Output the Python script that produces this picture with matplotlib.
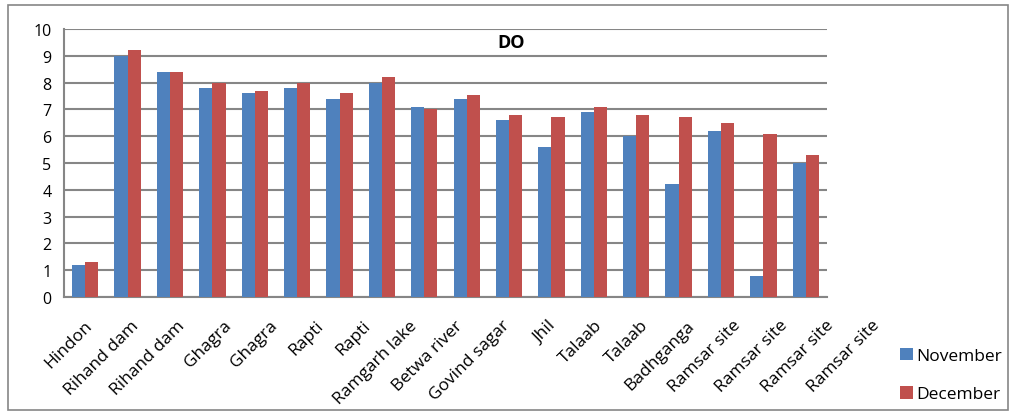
import numpy as np
import matplotlib.pyplot as plt
from matplotlib.patches import Rectangle

sites = ['Hindon', 'Rihand dam', 'Rihand dam', 'Ghagra', 'Ghagra', 'Rapti', 'Rapti',
         'Ramgarh lake', 'Betwa river', 'Govind sagar', 'Jhil', 'Talaab', 'Talaab',
         'Badhganga', 'Ramsar site', 'Ramsar site', 'Ramsar site', 'Ramsar site']
november = [1.2, 9.0, 8.4, 7.8, 7.6, 7.8, 7.4, 8.0, 7.1, 7.4, 6.6, 5.6, 6.9, 6.0, 4.2, 6.2, 0.8, 5.0]
december = [1.3, 9.2, 8.4, 8.0, 7.7, 8.0, 7.6, 8.2, 7.0, 7.55, 6.8, 6.7, 7.1, 6.8, 6.7, 6.5, 6.1, 5.3]

plt.rcParams['font.family'] = ['Open Sans', 'DejaVu Sans']

fig = plt.figure(figsize=(10.10, 4.14), dpi=100)
ax = fig.add_axes([64 / 1010, 1 - 298 / 414, (827 - 64) / 1010, (298 - 30) / 414])

x = np.arange(len(sites))
w = 0.31
ax.bar(x - w / 2, november, w, color='#4F81BD', label='November', zorder=3)
ax.bar(x + w / 2, december, w, color='#C0504D', label='December', zorder=3)

ax.set_xlim(-0.5, len(sites) - 0.5)
ax.set_ylim(0, 10)
ax.set_yticks(range(0, 11))
ax.yaxis.grid(True, color='#868686', linewidth=1.5, zorder=0)
ax.tick_params(axis='y', length=0, labelsize=11.5, pad=9)
ax.set_xticks(x)
ax.set_xticklabels([])
ax.tick_params(axis='x', length=0)

# category labels, slanted, fanning out a bit wider than the bar groups
for i, name in enumerate(sites):
    ax.annotate(name, xy=(i, 0), xycoords=('data', 'axes fraction'),
                xytext=(-1 + 3.95 * i, -20), textcoords='offset pixels',
                rotation=45, ha='right', va='top', rotation_mode='anchor',
                fontsize=12.5, annotation_clip=False)

for s in ['top', 'right']:
    ax.spines[s].set_visible(False)
for s in ['left', 'bottom']:
    ax.spines[s].set_color('#868686')
    ax.spines[s].set_linewidth(1.5)

fig.text(511 / 1010, 1 - 43 / 414, 'DO', ha='center', va='center',
         fontsize=13, fontweight='bold')

fig.legend(loc='upper left', bbox_to_anchor=(891 / 1010, 1 - 340 / 414),
           frameon=False, fontsize=12.5, handlelength=0.75, handleheight=0.75,
           handletextpad=0.2, labelspacing=1.25, borderpad=0)

# outer chart border
fig.patches.append(Rectangle((8 / 1010, 3 / 414), 1000 / 1010, 405 / 414,
                             transform=fig.transFigure, fill=False,
                             edgecolor='#868686', linewidth=1.2))

fig.savefig('out.png', dpi=100)
